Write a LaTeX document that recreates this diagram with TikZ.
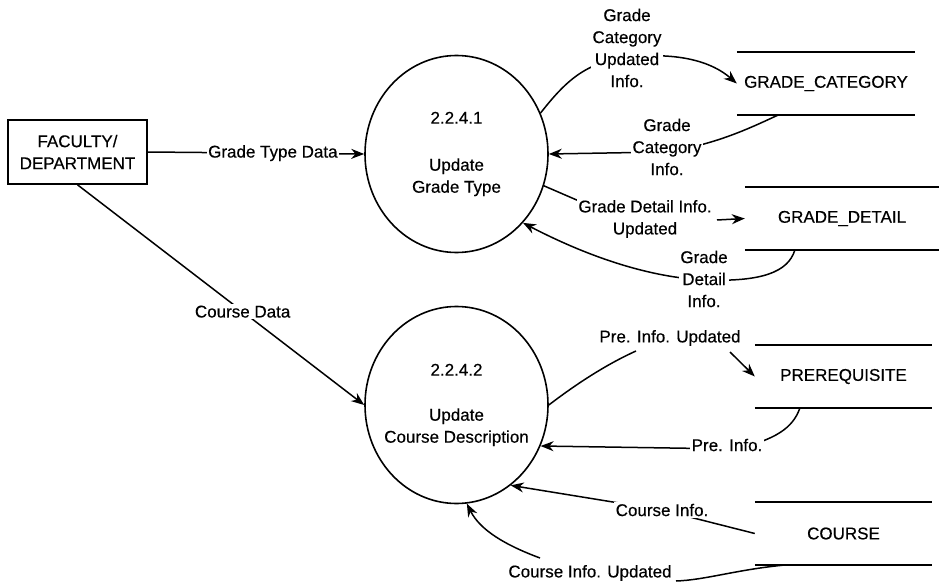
\documentclass[tikz,border=0pt]{standalone}
\usepackage{fontspec}
\setmainfont{Liberation Sans}[FakeBold=0.4]
\usetikzlibrary{arrows.meta,shapes.geometric}
\begin{document}
\begin{tikzpicture}[x=1pt,y=-1pt,
  every node/.style={font=\fontsize{17}{22}\selectfont, inner sep=1pt},
  flow/.style={line width=1.5pt},
  arr/.style={flow,-{Stealth[length=13pt,width=10pt]}},
  proc/.style={ellipse,draw,line width=1.6pt,minimum width=183pt,minimum height=197pt,inner sep=0pt},
  ptext/.style={align=center},
  store/.style={minimum height=63pt,inner sep=0pt},
  sline/.style={line width=1.5pt},
  lbl/.style={fill=white,align=center,inner sep=1.5pt}]
\useasboundingbox (0,0) rectangle (939,588);

% external entity
\node[draw,line width=1.6pt,minimum width=139pt,minimum height=64pt,align=center] (fac) at (77.5,152) {FACULTY/\\DEPARTMENT};

% processes
\node[proc] (p1) at (456.5,154) {};
\node[ptext] (p1t) at (p1.center) {2.2.4.1\\[25pt]Update\\Grade Type};
\node[proc] (p2) at (456.5,405) {};
\node[ptext] (p2t) at (p2.center) {2.2.4.2\\[23pt]Update\\Course Description};

% data stores
\node[store,minimum width=178pt] (gc) at (826,83.5) {GRADE\_CATEGORY};
\node[store,minimum width=194pt] (gd) at (842,218.5) {GRADE\_DETAIL};
\node[store,minimum width=177pt] (pre) at (843.5,376.5) {PREREQUISITE};
\node[store,minimum width=177pt] (crs) at (843.5,533.5) {COURSE};
\foreach \s in {gc,gd,pre,crs}{
  \draw[sline] (\s.north west) -- (\s.north east);
  \draw[sline] (\s.south west) -- (\s.south east);
}

% named free ends
\coordinate (c2s) at ([xshift=41pt]gc.south west);
\coordinate (c4s) at ([xshift=50pt]gd.south west);
\coordinate (c6s) at ([xshift=45pt]pre.south west);
\coordinate (c8s) at ([xshift=28pt]crs.south west);
\coordinate (a3s) at (579,201);
\coordinate (a3e) at (717,220);
\coordinate (a5s) at (636,351);
\coordinate (a5e) at (730,352);
\coordinate (a8m) at (676,581);
\coordinate (a8e) at (540,558);

% flows
\draw[arr] (fac.east) -- node[lbl,pos=0.578] (lgt) {Grade Type Data} (p1.west);
\draw[arr] (fac.south) -- node[lbl,pos=0.576] (lcd) {Course Data} (p2.west);

\draw[arr] (p1.26) .. controls (565,82) and (585,62) .. (628,57) .. controls (680,52) and (712,62) .. (gc.west);
\draw[arr] (c2s) .. controls (750,128) and (715,145) .. (665,152) -- (p1.east);
\draw[flow] (p1.-20) -- (a3s);
\draw[arr] (a3e) -- (gd.west);
\draw[arr] (c4s) .. controls (788,272) and (762,282) .. (705,280) .. controls (640,277) and (575,250) .. (p1.-46);

\draw[flow] (p2.east) .. controls (575,385) and (605,365) .. (a5s);
\draw[arr] (a5e) -- (pre.west);
\draw[arr] (c6s) .. controls (793,428) and (775,440) .. (735,449) -- (p2.-26);
\draw[arr] (crs.west) -- (662,510) -- (p2.-56);
\draw[flow] (c8s) .. controls (735,570) and (705,580) .. (a8m);
\draw[arr] (a8e) .. controls (505,545) and (480,530) .. (p2.-84);

% labels
\node[lbl] (l1) at (627,48) {Grade\\Category\\Updated\\Info.};
\node[lbl] (l2) at (667,147) {Grade\\Category\\Info.};
\node[lbl] (l3) at (645,219) {Grade Detail Info.\\Updated};
\node[lbl] (l4) at (704,279) {Grade\\Detail\\Info.};
\node[lbl] (l5) at (670,338) {Pre. Info. Updated};
\node[lbl] (l6) at (727,445) {Pre. Info.};
\node[lbl] (l7) at (662,510) {Course Info.};
\node[lbl] (l8) at (590,573) {Course Info. Updated};
\end{tikzpicture}
\end{document}
